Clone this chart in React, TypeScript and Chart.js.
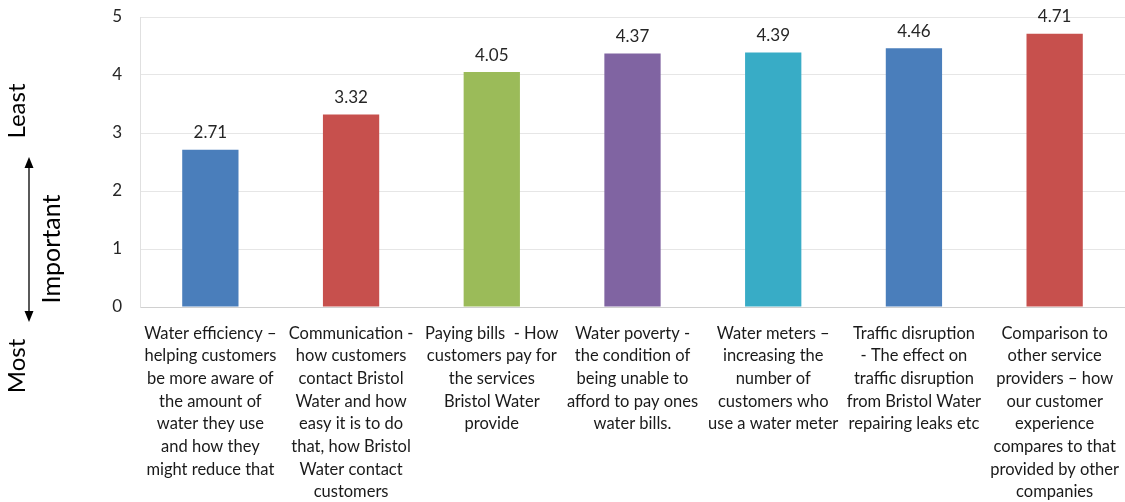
import React, { useEffect, useRef } from "react";
import { Chart, registerables } from "chart.js";

Chart.register(...registerables);

const categories: string[][] = [
  ["Water efficiency –", "helping customers", "be more aware of", "the amount of", "water they use", "and how they", "might reduce that"],
  ["Communication -", "how customers", "contact Bristol", "Water and how", "easy it is to do", "that, how Bristol", "Water contact", "customers"],
  ["Paying bills  - How", "customers pay for", "the services", "Bristol Water", "provide"],
  ["Water poverty -", "the condition of", "being unable to", "afford to pay ones", "water bills."],
  ["Water meters –", "increasing the", "number of", "customers who", "use a water meter"],
  ["Traffic disruption", "- The effect on", "traffic disruption", "from Bristol Water", "repairing leaks etc"],
  ["Comparison to", "other service", "providers – how", "our customer", "experience", "compares to that", "provided by other", "companies"],
];
const scores: number[] = [2.71, 3.32, 4.05, 4.37, 4.39, 4.46, 4.71];
const barColors: string[] = ["#4A7EBB", "#C7504D", "#9BBB59", "#8064A2", "#38ACC6", "#4A7EBB", "#C7504D"];
const yTicks: number[] = [0, 1, 2, 3, 4, 5];
const sideLabels = { top: "Least", middle: "Important", bottom: "Most" };

const FONT = "Lato, 'Open Sans', sans-serif";

const valueLabels = {
  id: "valueLabels",
  afterDatasetsDraw(chart: any) {
    const ctx = chart.ctx;
    const meta = chart.getDatasetMeta(0);
    ctx.save();
    ctx.font = `17px ${FONT}`;
    ctx.fillStyle = "#262626";
    ctx.textAlign = "center";
    ctx.textBaseline = "middle";
    meta.data.forEach((bar: any, i: number) => {
      ctx.fillText(scores[i].toFixed(2), bar.x, bar.y - 17);
    });
    ctx.restore();
  },
};

const sideAnnotation = {
  id: "sideAnnotation",
  afterDraw(chart: any) {
    const ctx = chart.ctx;
    ctx.save();
    ctx.fillStyle = "#000";
    ctx.textAlign = "center";
    ctx.textBaseline = "middle";
    const drawRot = (t: string, x: number, y: number, size: number) => {
      ctx.save();
      ctx.font = `${size}px ${FONT}`;
      ctx.translate(x, y);
      ctx.rotate(-Math.PI / 2);
      ctx.fillText(t, 0, 0);
      ctx.restore();
    };
    drawRot(sideLabels.top, 17, 111, 24);
    drawRot(sideLabels.middle, 52, 249, 25);
    drawRot(sideLabels.bottom, 17, 366, 24);
    const ax = 29, y1 = 157, y2 = 322;
    ctx.strokeStyle = "#000";
    ctx.lineWidth = 1.3;
    ctx.beginPath();
    ctx.moveTo(ax, y1 + 8);
    ctx.lineTo(ax, y2 - 8);
    ctx.stroke();
    ctx.beginPath();
    ctx.moveTo(ax, y1);
    ctx.lineTo(ax - 4.5, y1 + 11);
    ctx.lineTo(ax + 4.5, y1 + 11);
    ctx.closePath();
    ctx.fill();
    ctx.beginPath();
    ctx.moveTo(ax, y2);
    ctx.lineTo(ax - 4.5, y2 - 11);
    ctx.lineTo(ax + 4.5, y2 - 11);
    ctx.closePath();
    ctx.fill();
    ctx.restore();
  },
};

export default function App() {
  const ref = useRef<HTMLCanvasElement | null>(null);
  useEffect(() => {
    document.body.style.margin = "0";
    if (!ref.current) return;
    const chart = new Chart(ref.current, {
      type: "bar",
      data: {
        labels: categories,
        datasets: [
          {
            data: scores,
            backgroundColor: barColors,
            borderWidth: 0,
            barPercentage: 0.4,
            categoryPercentage: 1,
          },
        ],
      },
      options: {
        animation: false,
        responsive: false,
        maintainAspectRatio: false,
        layout: { padding: { top: 17, left: 0, right: 0, bottom: 0 } },
        plugins: { legend: { display: false }, tooltip: { enabled: false } },
        scales: {
          x: {
            grid: { display: false, drawTicks: false },
            border: { color: "#d0d0d0", width: 1 },
            ticks: {
              autoSkip: false,
              maxRotation: 0,
              minRotation: 0,
              padding: 15,
              color: "#1a1a1a",
              font: { family: FONT, size: 16.5, lineHeight: 1.375 },
            },
            afterFit(scale: any) {
              scale.height = 195;
              scale.paddingLeft = 0;
              scale.paddingRight = 0;
            },
          },
          y: {
            min: 0,
            max: 5,
            afterBuildTicks(scale: any) {
              scale.ticks = yTicks.map((v) => ({ value: v }));
            },
            grid: { color: "#e6e6e6", drawTicks: false },
            border: { color: "#e0e0e0" },
            ticks: {
              padding: 18,
              color: "#262626",
              font: { family: FONT, size: 17 },
            },
            afterFit(scale: any) {
              scale.width = 140;
              scale.paddingTop = 0;
              scale.paddingBottom = 0;
            },
          },
        },
      },
      plugins: [valueLabels, sideAnnotation],
    });
    return () => chart.destroy();
  }, []);
  return <canvas ref={ref} width={1125} height={502} style={{ display: "block" }} />;
}
